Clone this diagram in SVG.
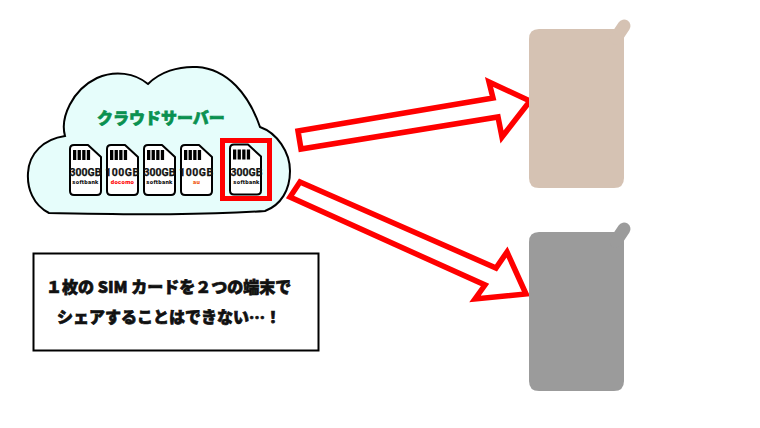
<svg xmlns="http://www.w3.org/2000/svg" width="760" height="428" viewBox="0 0 760 428">
<style>
.sim{fill:#fff;stroke:#000;stroke-width:2;stroke-linejoin:round}
.bar{fill:#000}
.gb{font:700 10.500px Roboto,"Liberation Sans",sans-serif;text-anchor:middle;fill:#111;stroke:#111;stroke-width:.25}
.op{font:900 6px Roboto,"Liberation Sans",sans-serif;text-anchor:middle;fill:#111;letter-spacing:.3px}
.jp{font-family:"Noto Sans CJK JP",sans-serif;font-weight:900;stroke-width:.7;paint-order:stroke}
.arrow{fill:#fff;stroke:#f00;stroke-width:5.500;stroke-linejoin:miter;stroke-miterlimit:8}
</style>
<defs>
<g id="simcard">
<path class="sim" d="M4 0H18L31 12V46Q31 50 27 50H4Q0 50 0 46V4Q0 0 4 0Z"/>
<rect class="bar" x="3" y="5" width="3.300" height="10"/><rect class="bar" x="7.600" y="5" width="3.300" height="10"/><rect class="bar" x="12.200" y="5" width="3.300" height="10"/><rect class="bar" x="16.800" y="5" width="3.300" height="10"/>
</g>
<path id="phonebody" d="M539 29H624V178Q624 188 614 188H539Q529 188 529 178V39Q529 29 539 29Z"/>
</defs>
<g id="cloud">
<path d="M49 213C33 205 27 188 28 173C29 153 44 139 65 136C60 118 72 90 97 78C115 70 135 73 148 84C160 72 178 66 197 67C228 69 249 95 260 127C277 133 290 152 290 171C290 190 281 205 265 211C195 216 120 214 49 213Z" fill="#e6fdfb" stroke="#000" stroke-width="2"/>
<text class="jp" x="97" y="123.500" font-size="16" fill="#0a9150" stroke="#0a9150">クラウドサーバー</text>
</g>
<g id="sim1"><use href="#simcard" x="70" y="145"/><text class="gb" x="85.500" y="175.500">300GB</text><text class="op" x="85.500" y="184">softbank</text></g>
<g id="sim2"><use href="#simcard" x="107" y="145"/><text class="gb" x="122.500" y="175.500" letter-spacing=".5">100GB</text><text class="op" x="122.500" y="184" style="fill:#f00">docomo</text></g>
<g id="sim3"><use href="#simcard" x="144" y="145"/><text class="gb" x="159.500" y="175.500">300GB</text><text class="op" x="159.500" y="184">softbank</text></g>
<g id="sim4"><use href="#simcard" x="181" y="145"/><text class="gb" x="196.500" y="175.500" letter-spacing=".5">100GB</text><text class="op" x="196.500" y="184" style="fill:#f05a14">au</text></g>
<g id="sim5"><use href="#simcard" x="230" y="144.500"/><text class="gb" x="246.500" y="175.500">300GB</text><text class="op" x="246.500" y="184">softbank</text>
<rect x="222.500" y="140.500" width="47" height="58" fill="none" stroke="#f00" stroke-width="5"/></g>
<g id="connectors">
<path class="arrow" d="M298 131L493 98L489 82L530 101L502 137L498 117L301 149Z"/>
<path class="arrow" d="M300 182L496 268L507 252L526 294L475 299L485 285L290 197Z"/>
</g>
<g id="phone1"><use href="#phonebody" fill="#d5c2b3"/><path d="M624 26L616 38" stroke="#d5c2b3" stroke-width="13" stroke-linecap="round"/></g>
<g id="phone2" transform="translate(0 203)"><use href="#phonebody" fill="#9b9b9b"/><path d="M624 26L616 38" stroke="#9b9b9b" stroke-width="13" stroke-linecap="round"/></g>
<g id="note">
<rect x="33.500" y="253.500" width="285" height="97" fill="#fff" stroke="#000" stroke-width="2"/>
<text class="jp" x="46" y="293" font-size="16" fill="#111" stroke="#111">１枚の SIM カードを２つの端末で</text>
<text class="jp" x="57" y="323" font-size="16" fill="#111" stroke="#111">シェアすることはできない…！</text>
</g>
</svg>
